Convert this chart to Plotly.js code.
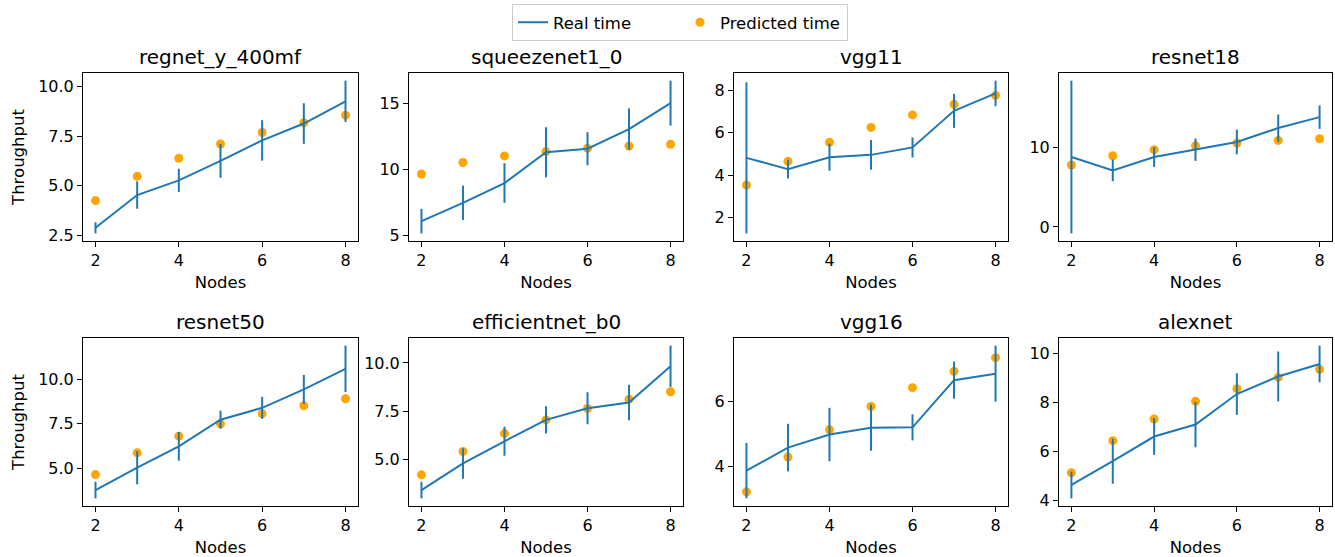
<!DOCTYPE html>
<html>
<head>
<meta charset="utf-8">
<script src="https://cdn.plot.ly/plotly-3.0.1.min.js"></script>
<style>html,body{margin:0;padding:0;background:#fff;}#chart{width:1335px;height:557px;}</style>
</head>
<body>
<div id="chart"></div>
<script>
const nodes = [2, 3, 4, 5, 6, 7, 8];
const models = ["regnet_y_400mf", "squeezenet1_0", "vgg11", "resnet18", "resnet50", "efficientnet_b0", "vgg16", "alexnet"];

const regnetReal = [2.88, 4.53, 5.27, 6.25, 7.28, 8.13, 9.25];
const regnetErr  = [0.28, 0.69, 0.58, 0.85, 1.02, 1.02, 1.04];
const regnetPred = [4.25, 5.47, 6.38, 7.10, 7.68, 8.17, 8.55];

const squeezeReal = [6.12, 7.50, 9.00, 11.33, 11.60, 13.08, 15.05];
const squeezeErr  = [0.93, 1.30, 1.50, 1.90, 1.25, 1.57, 1.70];
const squeezePred = [9.68, 10.55, 11.05, 11.38, 11.63, 11.80, 11.93];

const vgg11Real = [4.81, 4.28, 4.84, 4.95, 5.30, 7.02, 7.84];
const vgg11Err  = [3.55, 0.44, 0.64, 0.70, 0.47, 0.80, 0.60];
const vgg11Pred = [3.53, 4.65, 5.54, 6.24, 6.83, 7.33, 7.75];

const resnet18Real = [8.79, 7.11, 8.79, 9.71, 10.67, 12.43, 13.80];
const resnet18Err  = [9.60, 1.36, 1.25, 1.40, 1.55, 1.70, 1.47];
const resnet18Pred = [7.78, 8.95, 9.71, 10.21, 10.54, 10.88, 11.09];

const resnet50Real = [3.76, 5.02, 6.23, 7.73, 8.40, 9.44, 10.60];
const resnet50Err  = [0.47, 0.94, 0.81, 0.51, 0.62, 0.82, 1.31];
const resnet50Pred = [4.63, 5.86, 6.80, 7.50, 8.07, 8.52, 8.91];

const effnetReal = [3.41, 4.79, 5.94, 7.05, 7.65, 7.95, 9.83];
const effnetErr  = [0.43, 0.79, 0.75, 0.71, 0.83, 0.92, 1.07];
const effnetPred = [4.20, 5.41, 6.34, 7.05, 7.64, 8.12, 8.51];

const vgg16Real = [3.86, 4.57, 4.97, 5.18, 5.19, 6.64, 6.84];
const vgg16Err  = [0.85, 0.73, 0.82, 0.71, 0.40, 0.57, 0.86];
const vgg16Pred = [3.21, 4.28, 5.12, 5.83, 6.41, 6.91, 7.33];

const alexnetReal = [4.63, 5.60, 6.61, 7.10, 8.35, 9.07, 9.58];
const alexnetErr  = [0.55, 0.92, 0.75, 0.93, 0.85, 1.02, 0.75];
const alexnetPred = [5.13, 6.44, 7.33, 8.05, 8.57, 9.03, 9.36];

const realSets = [regnetReal, squeezeReal, vgg11Real, resnet18Real, resnet50Real, effnetReal, vgg16Real, alexnetReal];
const errSets  = [regnetErr, squeezeErr, vgg11Err, resnet18Err, resnet50Err, effnetErr, vgg16Err, alexnetErr];
const predSets = [regnetPred, squeezePred, vgg11Pred, resnet18Pred, resnet50Pred, effnetPred, vgg16Pred, alexnetPred];

const yDticks = [2.5, 5, 2, 10, 2.5, 2.5, 2, 2];
const yFormats = [".1f", "d", "d", "d", ".1f", ".1f", "d", "d"];

const W = 1335, H = 557;
const colPx = [[83, 358], [409, 683], [734, 1008], [1059, 1332]];
const rowPx = [[73, 241], [338, 506]];
const titleYPx = [57, 322];

const FONT = "DejaVu Sans, sans-serif";
const BLUE = "#1f77b4";
const ORANGE = "#ffa500";

const traces = [];
const annotations = [];
const layout = {
  width: W, height: H,
  margin: {l: 0, r: 0, t: 0, b: 0},
  paper_bgcolor: "#ffffff",
  plot_bgcolor: "#ffffff",
  font: {family: FONT, size: 16, color: "#000"},
  showlegend: true,
  legend: {
    orientation: "h",
    x: 680 / W, xanchor: "center",
    y: 1 - 4 / H, yanchor: "top",
    bgcolor: "#ffffff",
    bordercolor: "#cccccc",
    borderwidth: 1,
    entrywidth: 122,
    entrywidthmode: "pixels",
    font: {family: FONT, size: 16.5, color: "#000"},
    traceorder: "normal"
  },
  annotations: annotations
};

for (let i = 0; i < 8; i++) {
  const r = Math.floor(i / 4), c = i % 4;
  const n = i + 1;
  const xa = n === 1 ? "x" : "x" + n;
  const ya = n === 1 ? "y" : "y" + n;
  const real = realSets[i], err = errSets[i], pred = predSets[i];

  let lo = Infinity, hi = -Infinity;
  for (let k = 0; k < nodes.length; k++) {
    lo = Math.min(lo, real[k] - err[k], pred[k]);
    hi = Math.max(hi, real[k] + err[k], pred[k]);
  }
  const pad = (hi - lo) * 0.05;
  const xpad = (nodes[nodes.length - 1] - nodes[0]) * 0.05;

  traces.push({
    x: nodes, y: pred, type: "scatter", mode: "markers",
    name: "Predicted time", legendrank: 2,
    marker: {color: ORANGE, size: 9},
    xaxis: xa, yaxis: ya, showlegend: i === 0, hoverinfo: "skip"
  });
  traces.push({
    x: nodes, y: real, type: "scatter", mode: "lines",
    name: "Real time", legendrank: 1,
    line: {color: BLUE, width: 2},
    error_y: {type: "data", array: err, visible: true, color: BLUE, thickness: 2, width: 0},
    xaxis: xa, yaxis: ya, showlegend: i === 0, hoverinfo: "skip"
  });

  const axCommon = {
    showgrid: false, zeroline: false,
    showline: true, linecolor: "#000", linewidth: 1, mirror: true,
    ticks: "outside", ticklen: 5, tickwidth: 1, tickcolor: "#000",
    tickfont: {family: FONT, size: 16, color: "#000"}
  };
  layout["xaxis" + (n === 1 ? "" : n)] = Object.assign({}, axCommon, {
    domain: [colPx[c][0] / W, colPx[c][1] / W],
    anchor: ya,
    range: [nodes[0] - xpad, nodes[nodes.length - 1] + xpad],
    tick0: 0, dtick: 2,
    title: {text: "Nodes", font: {family: FONT, size: 16.5, color: "#000"}, standoff: 7}
  });
  layout["yaxis" + (n === 1 ? "" : n)] = Object.assign({}, axCommon, {
    domain: [1 - rowPx[r][1] / H, 1 - rowPx[r][0] / H],
    anchor: xa,
    range: [lo - pad, hi + pad],
    tick0: 0, dtick: yDticks[i], tickformat: yFormats[i],
    title: c === 0 ? {text: "Throughput", font: {family: FONT, size: 16.5, color: "#000"}, standoff: 9} : {text: ""}
  });

  annotations.push({
    text: models[i],
    xref: "paper", yref: "paper",
    x: (colPx[c][0] + colPx[c][1]) / 2 / W,
    y: 1 - titleYPx[r] / H,
    xanchor: "center", yanchor: "middle",
    showarrow: false,
    font: {family: FONT, size: 20, color: "#000"}
  });
}

Plotly.newPlot("chart", traces, layout, {displayModeBar: false, staticPlot: true});
</script>
</body>
</html>
